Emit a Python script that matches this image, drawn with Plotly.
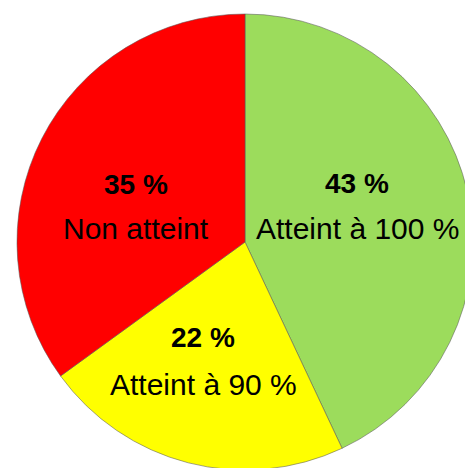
import plotly.graph_objects as go

# Data
categories = ["Atteint à 100 %", "Atteint à 90 %", "Non atteint"]
values = [43, 22, 35]
colors = ["#9CDC5C", "#FFFF00", "#FF0000"]
# label anchor points (pixels from top-left of the page)
label_x = [357, 203, 136]
label_y_pct = [183, 337, 184]
label_y_name = [228, 384, 229]

W, H = 480, 484
cx, cy, r = 245, 242, 228

fig = go.Figure()
fig.add_trace(go.Pie(
    labels=categories,
    values=values,
    sort=False,
    direction="clockwise",
    rotation=0,
    marker=dict(colors=colors, line=dict(color="rgba(90,90,90,0.55)", width=1)),
    textinfo="none",
    hoverinfo="skip",
    showlegend=False,
    domain=dict(x=[(cx - r) / W, (cx + r) / W], y=[(H - cy - r) / H, (H - cy + r) / H]),
))

annotations = []
for i, name in enumerate(categories):
    annotations.append(dict(
        x=label_x[i] / W, y=1 - label_y_pct[i] / H, xref="paper", yref="paper",
        text="<b>%d %%</b>" % values[i], showarrow=False,
        xanchor="center", yanchor="middle",
        font=dict(family="Liberation Sans, Arial, sans-serif", size=28, color="black"),
    ))
    annotations.append(dict(
        x=label_x[i] / W, y=1 - label_y_name[i] / H, xref="paper", yref="paper",
        text=name, showarrow=False,
        xanchor="center", yanchor="middle",
        font=dict(family="Liberation Sans, Arial, sans-serif", size=30, color="black"),
    ))

fig.update_layout(
    width=W, height=H,
    margin=dict(l=0, r=0, t=0, b=0),
    paper_bgcolor="white", plot_bgcolor="white",
    annotations=annotations,
)

fig.write_html(
    "out.html",
    post_script="document.body.style.margin='0';document.body.style.overflow='hidden';",
)
